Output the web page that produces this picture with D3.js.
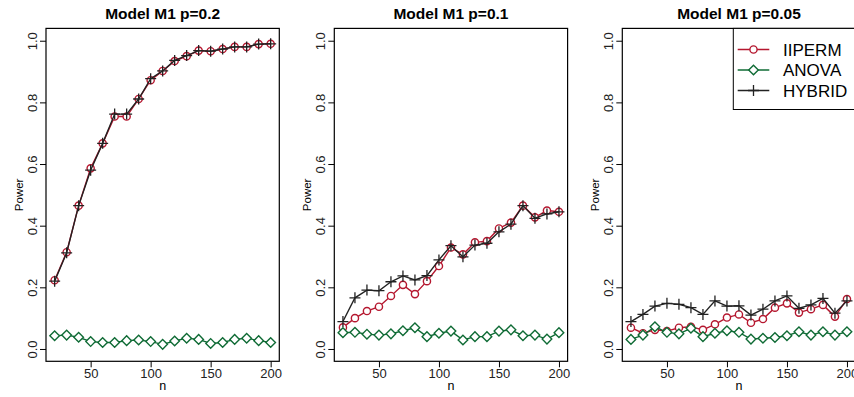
<!DOCTYPE html>
<html>
<head>
<meta charset="utf-8">
<script src="https://cdn.jsdelivr.net/npm/d3@7"></script>
<style>
  body { margin: 0; background: #fff; }
  svg { display: block; font-family: "Liberation Sans", Arial, sans-serif; }
</style>
</head>
<body>
<div id="chart"></div>
<script>
// sample sizes
var nValues = [20, 30, 40, 50, 60, 70, 80, 90, 100, 110, 120, 130, 140, 150, 160, 170, 180, 190, 200];

var panelTitles = ["Model M1 p=0.2", "Model M1 p=0.1", "Model M1 p=0.05"];

// power for p=0.2
var iipermP2 = [0.223, 0.314, 0.465, 0.586, 0.667, 0.754, 0.754, 0.811, 0.872, 0.902, 0.934, 0.950, 0.968, 0.966, 0.973, 0.980, 0.980, 0.989, 0.990];
var anovaP2  = [0.043, 0.045, 0.038, 0.024, 0.021, 0.021, 0.027, 0.029, 0.024, 0.015, 0.026, 0.035, 0.031, 0.018, 0.021, 0.031, 0.035, 0.027, 0.021];
var hybridP2 = [0.220, 0.312, 0.465, 0.580, 0.667, 0.762, 0.762, 0.811, 0.877, 0.902, 0.936, 0.952, 0.968, 0.966, 0.973, 0.980, 0.980, 0.989, 0.990];

// power for p=0.1
var iipermP1 = [0.070, 0.100, 0.123, 0.137, 0.172, 0.208, 0.178, 0.220, 0.269, 0.329, 0.307, 0.346, 0.350, 0.391, 0.410, 0.465, 0.427, 0.449, 0.445];
var anovaP1  = [0.053, 0.054, 0.048, 0.045, 0.049, 0.059, 0.069, 0.040, 0.051, 0.058, 0.029, 0.040, 0.040, 0.058, 0.062, 0.043, 0.045, 0.032, 0.053];
var hybridP1 = [0.089, 0.166, 0.191, 0.189, 0.218, 0.237, 0.224, 0.238, 0.289, 0.335, 0.299, 0.337, 0.343, 0.380, 0.405, 0.465, 0.424, 0.438, 0.445];

// power for p=0.05
var iipermP05 = [0.069, 0.051, 0.062, 0.058, 0.069, 0.072, 0.062, 0.080, 0.102, 0.112, 0.085, 0.097, 0.134, 0.148, 0.118, 0.129, 0.143, 0.105, 0.162];
var anovaP05  = [0.031, 0.045, 0.072, 0.054, 0.049, 0.067, 0.040, 0.051, 0.059, 0.054, 0.032, 0.035, 0.037, 0.043, 0.056, 0.045, 0.056, 0.045, 0.056];
var hybridP05 = [0.089, 0.112, 0.139, 0.148, 0.145, 0.134, 0.112, 0.156, 0.139, 0.140, 0.110, 0.129, 0.156, 0.172, 0.132, 0.143, 0.164, 0.116, 0.156];

var yTicks = [0, 0.2, 0.4, 0.6, 0.8, 1.0];
var xTicks = [50, 100, 150, 200];
var seriesNames = ["IIPERM", "ANOVA", "HYBRID"];
var seriesColors = ["#b5172f", "#0f6b35", "#222222"];
var seriesShapes = ["circle", "diamond", "plus"];

var panelData = [
    [iipermP2, anovaP2, hybridP2],
    [iipermP1, anovaP1, hybridP1],
    [iipermP05, anovaP05, hybridP05]
];

var width = 854, height = 397;
var panelLefts = [46, 334.3, 622.3];
var panelW = 233.3;
var plotTop = 28.4, plotBottom = 361.3;

var svg = d3.select("#chart").append("svg")
    .attr("width", width)
    .attr("height", height);

// draws one marker shape at (x, y)
function drawSymbol(g, shape, x, y, color) {
    if (shape === "circle") {
        g.append("circle").attr("cx", x).attr("cy", y).attr("r", 3.6)
            .attr("fill", "#fff").attr("stroke", color).attr("stroke-width", 1.4);
    } else if (shape === "diamond") {
        var s = 4.8;
        g.append("path")
            .attr("d", "M" + x + "," + (y - s) + "L" + (x + s) + "," + y + "L" + x + "," + (y + s) + "L" + (x - s) + "," + y + "Z")
            .attr("fill", "#fff").attr("stroke", color).attr("stroke-width", 1.4);
    } else {
        var a = 5.5;
        g.append("path")
            .attr("d", "M" + (x - a) + "," + y + "H" + (x + a) + "M" + x + "," + (y - a) + "V" + (y + a))
            .attr("fill", "none").attr("stroke", color).attr("stroke-width", 1.3);
    }
}

panelData.forEach(function (series, p) {
    var left = panelLefts[p];
    var xScale = d3.scaleLinear().domain([12.8, 207.2]).range([left, left + panelW]);
    var yScale = d3.scaleLinear().domain([-0.04, 1.04]).range([plotBottom, plotTop]);

    var g = svg.append("g");

    // title
    g.append("text")
        .attr("x", left + panelW / 2).attr("y", 18.5)
        .attr("text-anchor", "middle")
        .attr("font-size", "15.5px").attr("font-weight", "bold")
        .text(panelTitles[p]);

    // axes
    var yAxis = d3.axisLeft(yScale).tickValues(yTicks).tickSize(6).tickPadding(4)
        .tickFormat(d3.format(".1f"));
    var ya = g.append("g").attr("transform", "translate(" + left + ",0)").call(yAxis);
    ya.select(".domain").remove();
    ya.selectAll(".tick text")
        .attr("font-size", "13px").attr("fill", "#222")
        .attr("x", 0).attr("dy", null)
        .attr("text-anchor", "middle")
        .attr("transform", "translate(-13.5,0) rotate(-90)")
        .attr("y", 0)
        .attr("dominant-baseline", "central");
    ya.selectAll("line").attr("stroke", "#000");

    var xAxis = d3.axisBottom(xScale).tickValues(xTicks).tickSize(6).tickPadding(1);
    var xa = g.append("g").attr("transform", "translate(0," + plotBottom + ")").call(xAxis);
    xa.select(".domain").remove();
    xa.selectAll("text").attr("font-size", "13px").attr("fill", "#222");
    xa.selectAll("line").attr("stroke", "#000");

    // axis labels
    g.append("text")
        .attr("transform", "translate(" + (left - 23) + "," + ((plotTop + plotBottom) / 2) + ") rotate(-90)")
        .attr("text-anchor", "middle").attr("font-size", "11.5px")
        .text("Power");
    g.append("text")
        .attr("x", left + panelW / 2).attr("y", 390)
        .attr("text-anchor", "middle").attr("font-size", "12.5px")
        .text("n");

    // series lines and markers
    var line = d3.line()
        .x(function (d, i) { return xScale(nValues[i]); })
        .y(function (d) { return yScale(d); });

    series.forEach(function (vals, s) {
        g.append("path")
            .attr("d", line(vals))
            .attr("fill", "none")
            .attr("stroke", seriesColors[s])
            .attr("stroke-width", 1.4);
        vals.forEach(function (v, i) {
            drawSymbol(g, seriesShapes[s], xScale(nValues[i]), yScale(v), seriesColors[s]);
        });
    });

    // plot box
    g.append("rect")
        .attr("x", left).attr("y", plotTop)
        .attr("width", panelW).attr("height", plotBottom - plotTop)
        .attr("fill", "none").attr("stroke", "#000").attr("stroke-width", 1.2);

    // legend in the last panel
    if (p === 2) {
        var lg = svg.append("g");
        lg.append("rect")
            .attr("x", 733.3).attr("y", plotTop)
            .attr("width", 130).attr("height", 109.5 - plotTop)
            .attr("fill", "#fff").attr("stroke", "#000").attr("stroke-width", 1);
        var legendY = [49.5, 70, 90.5];
        seriesNames.forEach(function (name, s) {
            var y = legendY[s];
            lg.append("line")
                .attr("x1", 737.7).attr("x2", 769.3).attr("y1", y).attr("y2", y)
                .attr("stroke", seriesColors[s]).attr("stroke-width", 1.4);
            drawSymbol(lg, seriesShapes[s], 753.5, y, seriesColors[s]);
            lg.append("text")
                .attr("x", 783).attr("y", y).attr("dy", "0.36em")
                .attr("font-size", "17px")
                .text(name);
        });
    }
});
</script>
</body>
</html>
